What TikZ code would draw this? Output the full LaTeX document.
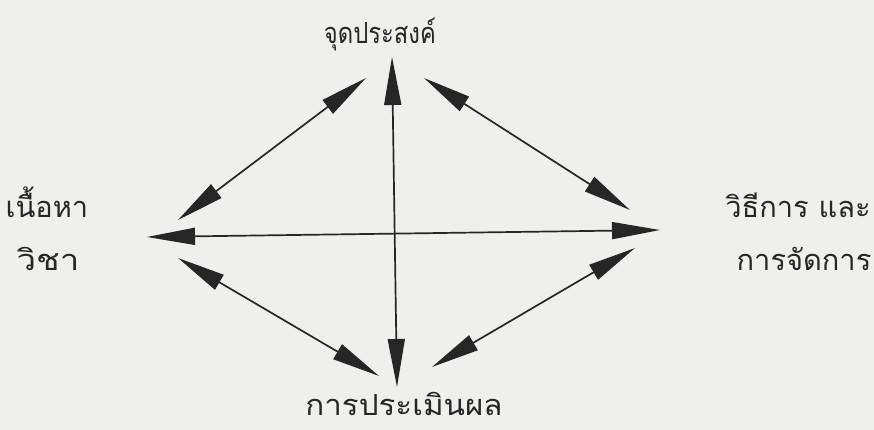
\documentclass[tikz,border=0pt]{standalone}
\usepackage{fontspec}
\newfontfamily\thaifont[Script=Thai]{Loma}
\usetikzlibrary{arrows.meta}
\definecolor{paper}{RGB}{239,239,237}
\definecolor{ink}{RGB}{38,38,38}

\begin{document}
\begin{tikzpicture}[x=1pt, y=-1pt,
  twoway/.style={draw=ink, line width=1.7pt,
    {Triangle[length=48pt,width=17pt,fill=ink]}-{Triangle[length=48pt,width=17pt,fill=ink]}},
  thai/.style={font=\thaifont\fontsize{29}{32}\selectfont, text=ink, inner sep=0pt, anchor=base}]
  % paper and margins
  \fill[paper] (0,0) rectangle (874,430);
  \useasboundingbox (0,0) rectangle (874,430);
  % the four labels (placed on their baselines)
  \node[thai] (goal)    at (380,44)  {\scalebox{0.82}[1]{จุดประสงค์}};
  \node[thai] (content) at (47,218)  {เนื้อหา};
  \node[thai] (subject) at (48,270)  {\scalebox{1.2}[1]{วิชา}};
  \node[thai] (method)  at (798,218) {วิธีการ และ};
  \node[thai] (manage)  at (804,270) {การจัดการ};
  \node[thai] (eval)    at (404,415) {\scalebox{1.08}[1]{การประเมินผล}};
  % arrow ends
  \coordinate (goalV)    at (392,57);
  \coordinate (evalV)    at (397,387);
  \coordinate (contentH) at (147,237);
  \coordinate (methodH)  at (660,230);
  \coordinate (goalL)    at (366,78);
  \coordinate (contentU) at (178,220);
  \coordinate (goalR)    at (424,78);
  \coordinate (methodU)  at (630,210);
  \coordinate (contentD) at (178,258);
  \coordinate (evalL)    at (379,376);
  \coordinate (methodD)  at (635,248);
  \coordinate (evalR)    at (432,367);
  % the cross
  \draw[twoway] (goalV) -- (evalV);
  \draw[twoway] (contentH) -- (methodH);
  % the diamond
  \draw[twoway] (goalL) -- (contentU);
  \draw[twoway] (goalR) -- (methodU);
  \draw[twoway] (contentD) -- (evalL);
  \draw[twoway] (methodD) -- (evalR);
\end{tikzpicture}
\end{document}
